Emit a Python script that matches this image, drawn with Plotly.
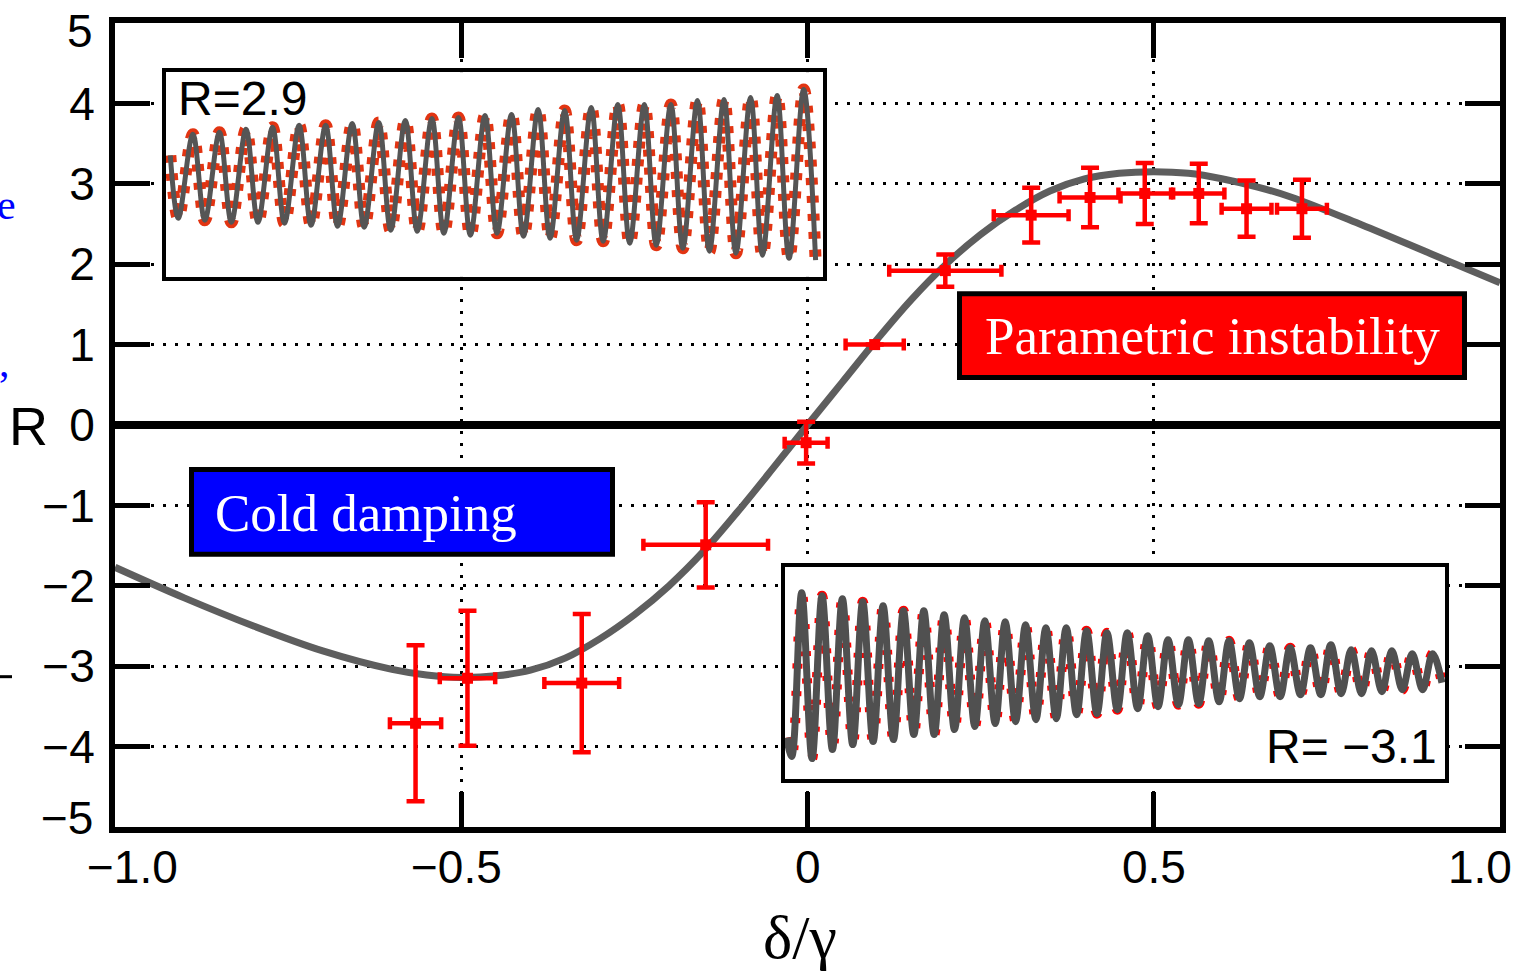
import plotly.graph_objects as go

# ---------------- data ----------------
# theory curve R(delta/gamma)
curve_x = [-1.0, -0.9, -0.8, -0.7, -0.6, -0.55, -0.5, -0.45, -0.4, -0.35, -0.3, -0.25, -0.2,
           -0.15, -0.1, -0.05, 0.0, 0.05, 0.1, 0.15, 0.2, 0.25, 0.3, 0.35, 0.4, 0.45,
           0.5, 0.55, 0.6, 0.65, 0.7, 0.8, 0.9, 1.0]
curve_r = [-1.77, -2.15, -2.50, -2.81, -3.04, -3.11, -3.14, -3.12, -3.05, -2.90, -2.66, -2.36, -2.00,
           -1.57, -1.07, -0.54, 0.0, 0.53, 1.06, 1.56, 2.00, 2.37, 2.67, 2.91, 3.06, 3.13,
           3.15, 3.13, 3.06, 2.96, 2.83, 2.49, 2.13, 1.77]

# measured points with error bars
meas_x = [-0.566, -0.491, -0.326, -0.147, -0.002, 0.097, 0.199, 0.323, 0.408, 0.487, 0.565, 0.634, 0.714]
meas_r = [-3.71, -3.15, -3.21, -1.49, -0.22, 1.00, 1.92, 2.61, 2.83, 2.88, 2.88, 2.69, 2.69]
meas_xerr = [0.037, 0.040, 0.054, 0.090, 0.031, 0.042, 0.081, 0.054, 0.044, 0.038, 0.037, 0.036, 0.036]
meas_rerr = [0.97, 0.84, 0.86, 0.53, 0.26, 0.0, 0.20, 0.34, 0.37, 0.38, 0.37, 0.35, 0.36]

# axis ticks
x_ticks = [-1.0, -0.5, 0.0, 0.5, 1.0]
x_ticklabels = ["\u22121.0", "\u22120.5", "0", "0.5", "1.0"]
y_ticks = [-5, -4, -3, -2, -1, 0, 1, 2, 3, 4, 5]
y_ticklabels = ["\u22125", "\u22124", "\u22123", "\u22122", "\u22121", "0", "1", "2", "3", "4", "5"]

# inset 1 (R = 2.9): growing oscillation, extrema per cycle (arb. units)
ins1_start = 0.20
ins1_peaks = [0.41, 0.43, 0.46, 0.48, 0.50, 0.50, 0.52, 0.53, 0.55, 0.57, 0.58, 0.60,
              0.61, 0.66, 0.65, 0.68, 0.71, 0.71, 0.71, 0.75, 0.76, 0.78, 0.80, 0.86]
ins1_troughs = [-0.43, -0.45, -0.47, -0.47, -0.48, -0.50, -0.51, -0.52, -0.55, -0.56, -0.58, -0.60,
                -0.58, -0.61, -0.63, -0.65, -0.66, -0.68, -0.70, -0.73, -0.76, -0.78, -0.80, -0.83, -0.85]

# inset 2 (R = -3.1): decaying oscillation
ins2_start = -0.65
ins2_end = -0.10
ins2_peaks = [0.80, 0.77, 0.74, 0.71, 0.67, 0.62, 0.62, 0.58, 0.55, 0.52, 0.51, 0.48,
              0.45, 0.45, 0.42, 0.40, 0.40, 0.37, 0.33, 0.33, 0.32, 0.32, 0.30, 0.27,
              0.25, 0.25, 0.28, 0.23, 0.22, 0.22, 0.19, 0.19]
ins2_troughs = [-0.84, -0.86, -0.77, -0.72, -0.69, -0.67, -0.62, -0.62, -0.57, -0.54, -0.51, -0.49,
                -0.47, -0.46, -0.42, -0.41, -0.37, -0.36, -0.34, -0.32, -0.31, -0.29, -0.26, -0.24,
                -0.24, -0.22, -0.22, -0.21, -0.21, -0.19, -0.17, -0.17]


def build_trace(start, peaks, troughs, peak_phase, start_t, end=None, end_t=None):
    t, v = [start_t], [start]
    for k, tr in enumerate(troughs):
        t.append(k)
        v.append(tr)
        if k < len(peaks):
            t.append(k + peak_phase)
            v.append(peaks[k])
    if end is not None:
        t.append(end_t)
        v.append(end)
    return t, v


t1, v1 = build_trace(ins1_start, ins1_peaks, ins1_troughs, 0.55, -0.3)
t2, v2 = build_trace(ins2_start, ins2_peaks, ins2_troughs, 0.49, -0.25, ins2_end, 31.95)

# ---------------- layout geometry (pixels) ----------------
W, H = 1524, 972
PL, PR, PT, PB = 115, 1500, 22.5, 827.5


def px(xp):
    return (xp - PL) / (PR - PL)


def py(yp):
    return (PB - yp) / (PB - PT)


SANS = "Liberation Sans, Arial, Helvetica, sans-serif"
SERIF = "Liberation Serif, Times New Roman, serif"

fig = go.Figure()

# main curve
fig.add_trace(go.Scatter(x=curve_x, y=curve_r, mode="lines",
                         line=dict(color="#5e5e5e", width=7, shape="spline", smoothing=1.0),
                         hoverinfo="skip", showlegend=False))
# measurements
fig.add_trace(go.Scatter(x=meas_x, y=meas_r, mode="markers",
                         marker=dict(symbol="square", size=11, color="#ff0000"),
                         error_x=dict(type="data", array=meas_xerr, color="#ff0000", thickness=4.5, width=6),
                         error_y=dict(type="data", array=meas_rerr, color="#ff0000", thickness=4.5, width=9),
                         showlegend=False))

# inset 1
fig.add_trace(go.Scatter(x=t1, y=v1, xaxis="x2", yaxis="y2", mode="lines",
                         line=dict(color="#e23412", width=12, dash="7px,11px", shape="spline"),
                         showlegend=False, hoverinfo="skip"))
fig.add_trace(go.Scatter(x=t1, y=v1, xaxis="x2", yaxis="y2", mode="lines",
                         line=dict(color="#555555", width=5, shape="spline"),
                         showlegend=False, hoverinfo="skip"))
# inset 2
fig.add_trace(go.Scatter(x=t2, y=v2, xaxis="x3", yaxis="y3", mode="lines",
                         line=dict(color="#ff0000", width=10, dash="5px,22px", shape="spline"),
                         showlegend=False, hoverinfo="skip"))
fig.add_trace(go.Scatter(x=t2, y=v2, xaxis="x3", yaxis="y3", mode="lines",
                         line=dict(color="#505050", width=7, shape="spline"),
                         showlegend=False, hoverinfo="skip"))

grid_common = dict(showgrid=True, gridcolor="black", gridwidth=3, griddash="3px,9px",
                   showline=True, linecolor="black", linewidth=6, mirror="ticks",
                   ticks="inside", ticklen=35, tickwidth=5, tickcolor="black",
                   tickfont=dict(family=SANS, size=46, color="black"))

inset_axis = dict(showgrid=False, zeroline=False, showticklabels=False, ticks="",
                  showline=True, linecolor="black", linewidth=4, mirror=True, fixedrange=True)

# y tick labels: the two end labels are drawn as annotations (pulled inwards as in the original)
y_text_axis = ["" if abs(v) == 5 else s for v, s in zip(y_ticks, y_ticklabels)]

fig.update_layout(
    width=W, height=H,
    margin=dict(l=PL, r=W - PR, t=PT, b=H - PB, pad=0),
    paper_bgcolor="white", plot_bgcolor="white",
    showlegend=False,
    xaxis=dict(range=[-1, 1], tickvals=x_ticks, ticktext=["" for _ in x_ticks],
               zeroline=False, **grid_common),
    yaxis=dict(range=[-5, 5], tickvals=y_ticks, ticktext=y_text_axis,
               zeroline=True, zerolinecolor="black", zerolinewidth=8, ticklabelstandoff=5, **grid_common),
    xaxis2=dict(domain=[px(165.8), px(823.3)], range=[-0.47, 24.29], anchor="y2", **inset_axis),
    yaxis2=dict(domain=[py(276.7), py(71.7)], range=[-1.017, 1.033], anchor="x2", **inset_axis),
    xaxis3=dict(domain=[px(785), px(1445)], range=[-0.33, 32.1], anchor="y3", **inset_axis),
    yaxis3=dict(domain=[py(779.5), py(567)], range=[-1.065, 1.06], anchor="x3", **inset_axis),
)

# coloured label boxes
fig.add_shape(type="rect", xref="paper", yref="paper",
              x0=px(959.5), x1=px(1464.5), y0=py(377.5), y1=py(293.5),
              fillcolor="#ff0000", line=dict(color="black", width=5), layer="above")
fig.add_shape(type="rect", xref="paper", yref="paper",
              x0=px(191.5), x1=px(612.5), y0=py(554.5), y1=py(469.5),
              fillcolor="#0000ff", line=dict(color="black", width=5), layer="above")

ann = []
ann.append(dict(text="Parametric instability", xref="paper", yref="paper", x=px(1212), y=py(336),
                xanchor="center", yanchor="middle", showarrow=False,
                font=dict(family=SERIF, size=53, color="white")))
ann.append(dict(text="Cold damping", xref="paper", yref="paper", x=px(213), y=py(513),
                xanchor="left", yanchor="middle", showarrow=False,
                font=dict(family=SERIF, size=53, color="white")))
# x tick labels (end ones pulled inwards as in the original)
x_shift = [17, -5, 0, 0, -20]
for xv, s, sh in zip(x_ticks, x_ticklabels, x_shift):
    ann.append(dict(text=s, xref="x", yref="paper", x=xv, y=py(868), xshift=sh,
                    xanchor="center", yanchor="middle", showarrow=False,
                    font=dict(family=SANS, size=46, color="black")))
# end y tick labels
for yv, s in zip(y_ticks, y_ticklabels):
    if abs(yv) == 5:
        ann.append(dict(text=s, xref="paper", yref="y", x=px(95), y=yv, yshift=-8 if yv > 0 else 9,
                        xanchor="right", yanchor="middle", showarrow=False,
                        font=dict(family=SANS, size=46, color="black")))
# axis titles
ann.append(dict(text="R", xref="paper", yref="paper", x=px(28), y=py(426),
                xanchor="center", yanchor="middle", showarrow=False,
                font=dict(family=SANS, size=54, color="black")))
ann.append(dict(text="\u03b4/\u03b3", xref="paper", yref="paper", x=px(800), y=py(938),
                xanchor="center", yanchor="middle", showarrow=False,
                font=dict(family=SERIF, size=62, color="black")))
# inset labels
ann.append(dict(text="R=2.9", xref="paper", yref="paper", x=px(176), y=py(98),
                xanchor="left", yanchor="middle", showarrow=False,
                font=dict(family=SANS, size=48, color="black")))
ann.append(dict(text="R= \u22123.1", xref="paper", yref="paper", x=px(1439), y=py(747),
                xanchor="right", yanchor="middle", showarrow=False,
                font=dict(family=SANS, size=48, color="black")))
# clipped remnants at the left edge of the slide
ann.append(dict(text="e", xref="paper", yref="paper", x=px(-5), y=py(205),
                xanchor="left", yanchor="middle", showarrow=False,
                font=dict(family=SERIF, size=42, color="#0000ff")))
ann.append(dict(text=",", xref="paper", yref="paper", x=px(-3), y=py(362),
                xanchor="left", yanchor="middle", showarrow=False,
                font=dict(family=SERIF, size=42, color="#0000ff")))
fig.update_layout(annotations=ann)

fig.add_shape(type="line", xref="paper", yref="paper", x0=px(0), x1=px(12), y0=py(677), y1=py(677),
              line=dict(color="black", width=3), layer="above")

fig.write_html("out.html", config={"displayModeBar": False},
               post_script="document.body.style.margin='0';document.body.style.overflow='hidden';")
